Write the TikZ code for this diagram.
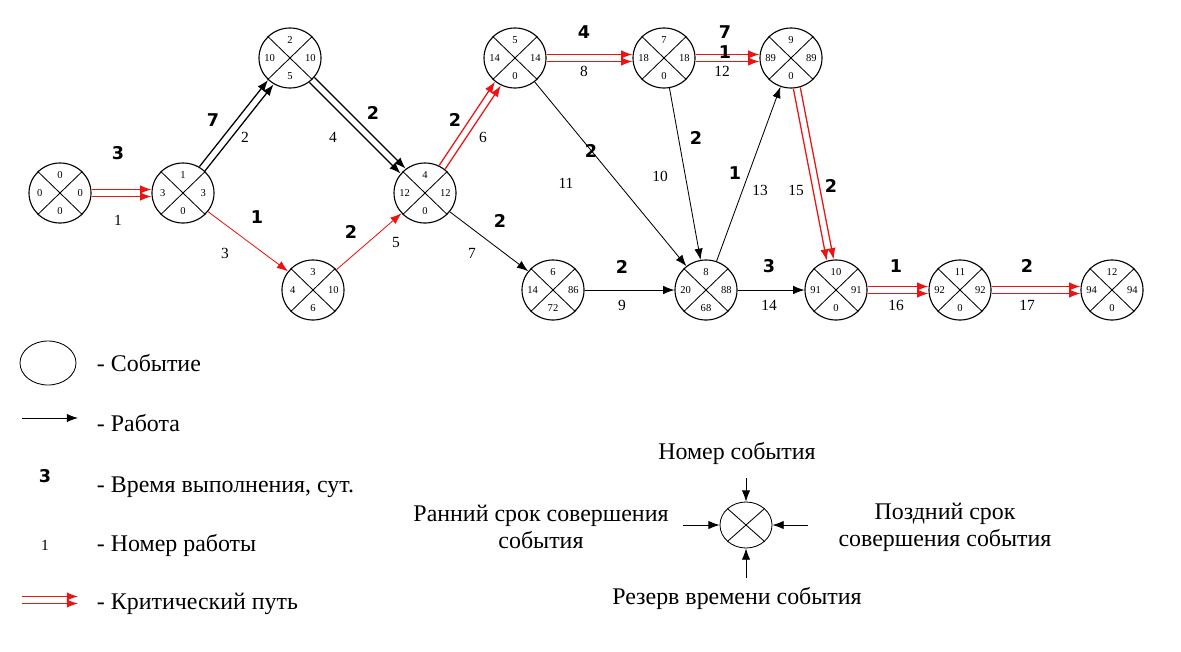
\documentclass[tikz,border=0pt]{standalone}
\usepackage{fontspec}
\setmainfont{Liberation Serif}
\newfontfamily\durfont{DejaVu Sans}
\usetikzlibrary{arrows.meta,calc,shapes.geometric}
\definecolor{crit}{RGB}{235,20,20}
\tikzset{
  event/.style={ellipse,draw,thick,minimum width=1.55cm,minimum height=1.5cm,inner sep=0},
  num/.style={font=\fontsize{7.5}{7.5}\selectfont,inner sep=0},
  dur/.style={font=\durfont\bfseries\fontsize{12.5}{12.5}\selectfont},
  wno/.style={font=\fontsize{11}{11}\selectfont},
  legend/.style={font=\fontsize{17}{19}\selectfont,align=center},
  work/.style={semithick,-{Latex[length=8pt,width=6pt]}},
}
% event with number, early, late and reserve
\newcommand{\event}[7]{%
  \node[event] (#1) at (#2,#3) {};
  \draw[semithick] (#1.north west) -- (#1.south east) (#1.north east) -- (#1.south west);
  \node[num] at ([yshift=-9pt]#1.north) {#4};
  \node[num] at ([xshift=8pt]#1.west) {#5};
  \node[num] at ([xshift=-8pt]#1.east) {#6};
  \node[num] at ([yshift=9pt]#1.south) {#7};}
% double work arrow
\newcommand{\dbl}[3][crit]{%
  \path (#2) -- (#3) coordinate[pos=0] (dS) coordinate[pos=1] (dE);
  \coordinate (dA1) at ($(dS)!2.5pt!90:(dE)$);
  \coordinate (dB1) at ($(dE)!2.5pt!270:(dS)$);
  \coordinate (dA2) at ($(dS)!2.5pt!270:(dE)$);
  \coordinate (dB2) at ($(dE)!2.5pt!90:(dS)$);
  \draw[work,line width=0.9pt,draw=#1,fill=#1] (dA1) -- (dB1);
  \draw[work,line width=0.9pt,draw=#1,fill=#1] (dA2) -- (dB2);}
\begin{document}
\begin{tikzpicture}[x=0.025cm,y=-0.025cm]
\useasboundingbox (0,0) rectangle (1181,651);
% events
\event{e0}{60}{193}{0}{0}{0}{0}
\event{e1}{183}{193}{1}{3}{3}{0}
\event{e2}{290}{58}{2}{10}{10}{5}
\event{e3}{313}{290}{3}{4}{10}{6}
\event{e4}{425}{193}{4}{12}{12}{0}
\event{e5}{515}{58}{5}{14}{14}{0}
\event{e6}{553}{290}{6}{14}{86}{72}
\event{e7}{664}{58}{7}{18}{18}{0}
\event{e8}{706}{290}{8}{20}{88}{68}
\event{e9}{791}{58}{9}{89}{89}{0}
\event{e10}{836}{290}{10}{91}{91}{0}
\event{e11}{960}{290}{11}{92}{92}{0}
\event{e12}{1112}{290}{12}{94}{94}{0}

% works
\dbl{e0}{e1}
\dbl[black]{e1}{e2}
\draw[work,crit] (e1) -- (e3);
\dbl[black]{e2}{e4}
\draw[work,crit] (e3) -- (e4);
\dbl{e4}{e5}
\draw[work] (e4) -- (e6);
\dbl{e5}{e7}
\draw[work] (e6) -- (e8);
\draw[work] (e7) -- (e8);
\draw[work] (e5) -- (e8);
\dbl{e7}{e9}
\draw[work] (e8) -- (e9);
\draw[work] (e8) -- (e10);
\dbl{e9}{e10}
\dbl{e10}{e11}
\dbl{e11}{e12}

% durations
\foreach \t/\x/\y in {3/118/153, 7/213/120, 1/257/217, 2/373/113, 2/351/232, 2/455/120,
  2/500/221, 4/584/32, 2/622/267, 2/696/138, 2/591/151, 7/725/32, 1/725/52, 1/735/173,
  3/769/266, 2/831/186, 1/896/266, 2/1027/266}
  \node[dur] at (\x,\y) {\t};
% work numbers
\foreach \t/\x/\y in {1/118/220, 2/245/137, 3/225/253, 4/333/137, 5/396/243, 6/483/137,
  7/472/253, 8/584/71, 9/622/305, 10/660/176, 11/566/183, 12/722/71, 13/760/190,
  14/769/305, 15/796/190, 16/896/305, 17/1027/305}
  \node[wno] at (\x,\y) {\t};

% legend
\node[ellipse,draw,semithick,minimum width=1.4cm,minimum height=1.1cm] (lev) at (48,363) {};
\node[legend,anchor=west] at (92,363) {- Событие};
\coordinate (lw1) at (22,418);
\coordinate (lw2) at (78,418);
\draw[work] (lw1) -- (lw2);
\node[legend,anchor=west] at (92,423) {- Работа};
\node[dur] at (45,476) {3};
\node[legend,anchor=west] at (92,487) {- Время выполнения, сут.};
\node[wno] at (45,545) {1};
\node[legend,anchor=west] at (92,545) {- Номер работы};
\coordinate (lc1) at (22,600);
\coordinate (lc2) at (78,600);
\dbl{lc1}{lc2}
\node[legend,anchor=west] at (92,604) {- Критический путь};

% key
\node[ellipse,draw,semithick,minimum width=1.3cm,minimum height=1.15cm] (key) at (746,525) {};
\draw[semithick] (key.north west) -- (key.south east) (key.north east) -- (key.south west);
\node[legend] (ktop) at (737,453) {Номер события};
\node[legend] (kleft) at (541,527) {Ранний срок совершения\\события};
\node[legend] (kright) at (945,527) {Поздний срок\\совершения события};
\node[legend] (kbot) at (737,598) {Резерв времени события};
\coordinate (at) at (746,478);
\coordinate (ab) at (746,578);
\coordinate (al) at (683,525);
\coordinate (ar) at (808,525);
\draw[work] (at) -- (key);
\draw[work] (ab) -- (key);
\draw[work] (al) -- (key);
\draw[work] (ar) -- (key);
\end{tikzpicture}
\end{document}
